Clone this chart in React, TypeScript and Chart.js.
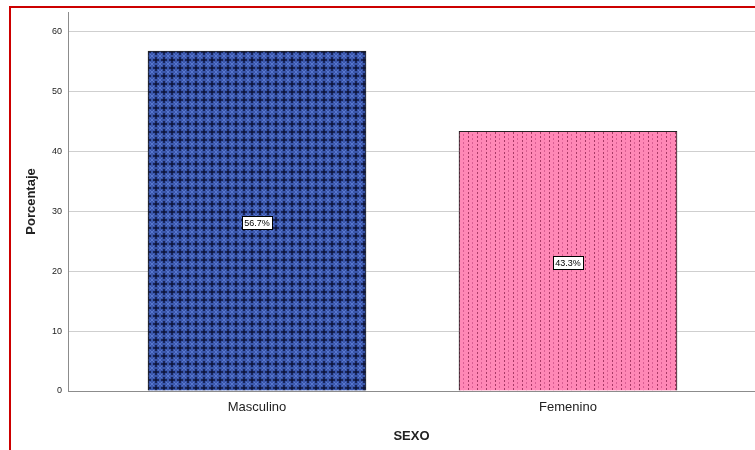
import React, { useEffect, useRef } from "react";
import { Chart, registerables } from "chart.js";

Chart.register(...registerables);

const categories = ["Masculino", "Femenino"];
const percentages = [56.7, 43.3];
const yTicks = [0, 10, 20, 30, 40, 50, 60];
const yMax = 63.2;

function makeCrossPattern(): CanvasPattern | string {
  const c = document.createElement("canvas");
  c.width = 8;
  c.height = 8;
  const g = c.getContext("2d");
  if (!g) return "#3b56a8";
  g.fillStyle = "#3a56aa";
  g.fillRect(0, 0, 8, 8);
  // light diamond lattice between the crosses
  g.fillStyle = "#5876cf";
  [[0, 0], [7, 0], [0, 7], [7, 7], [1, 1], [6, 1], [1, 6], [6, 6]].forEach(([x, y]) =>
    g.fillRect(x, y, 1, 1)
  );
  // dark plus marks
  g.fillStyle = "#182357";
  g.fillRect(3, 1, 2, 6);
  g.fillRect(1, 3, 6, 2);
  g.fillStyle = "#0f173d";
  g.fillRect(3, 3, 2, 2);
  return g.createPattern(c, "repeat") || "#3b56a8";
}

function makeDotPattern(): CanvasPattern | string {
  const c = document.createElement("canvas");
  c.width = 9;
  c.height = 4;
  const g = c.getContext("2d");
  if (!g) return "#ff86b4";
  g.fillStyle = "#ff88b6";
  g.fillRect(0, 0, 9, 4);
  g.fillStyle = "#a83a66";
  g.fillRect(0, 0, 1, 2);
  g.fillStyle = "#d95e92";
  g.fillRect(4, 2, 1, 2);
  return g.createPattern(c, "repeat") || "#ff86b4";
}

const valueLabels = {
  id: "valueLabels",
  afterDatasetsDraw(chart: any) {
    const ctx = chart.ctx;
    const meta = chart.getDatasetMeta(0);
    ctx.save();
    ctx.font = "9px 'Liberation Sans', Arial, sans-serif";
    ctx.textAlign = "center";
    ctx.textBaseline = "middle";
    meta.data.forEach((bar: any, i: number) => {
      const text = percentages[i].toFixed(1) + "%";
      const x = bar.x;
      const y = (bar.y + bar.base) / 2 + 2;
      const w = Math.round(ctx.measureText(text).width + 4);
      const h = 13;
      const left = Math.round(x - w / 2) + 0.5;
      const top = Math.round(y - h / 2) + 0.5;
      ctx.fillStyle = "#ffffff";
      ctx.fillRect(left, top, w, h);
      ctx.strokeStyle = "#000000";
      ctx.lineWidth = 1;
      ctx.strokeRect(left, top, w, h);
      ctx.fillStyle = "#000000";
      ctx.fillText(text, x, y + 0.5);
    });
    ctx.restore();
  },
};

export default function App() {
  const canvasRef = useRef<HTMLCanvasElement | null>(null);

  useEffect(() => {
    const canvas = canvasRef.current;
    if (!canvas) return;
    const fills = [makeCrossPattern(), makeDotPattern()];
    const chart = new Chart(canvas, {
      type: "bar",
      data: {
        datasets: [
          {
            data: categories.map((_, i) => ({ x: i, y: percentages[i] })),
            backgroundColor: fills as any,
            borderColor: "#222222",
            borderWidth: 1,
            barThickness: 218,
          },
        ],
      },
      options: {
        animation: false,
        responsive: false,
        devicePixelRatio: 1,
        layout: { padding: { top: 12, left: 0, right: 0, bottom: 0 } },
        plugins: { legend: { display: false }, tooltip: { enabled: false } },
        scales: {
          x: {
            type: "linear",
            offset: false,
            min: -0.6077,
            max: 1.6013,
            afterBuildTicks: (scale: any) => {
              scale.ticks = categories.map((_, i) => ({ value: i }));
            },
            afterFit: (scale: any) => {
              scale.height = 59;
            },
            grid: { display: false, drawTicks: false, offset: false },
            border: { display: true, color: "#8c8c8c", width: 1 },
            ticks: {
              padding: 9,
              color: "#222222",
              font: { family: "'Liberation Sans', Arial, sans-serif", size: 13 },
              callback: (v: any) => categories[v] ?? "",
              autoSkip: false,
              maxRotation: 0,
            },
            title: {
              display: true,
              text: "SEXO",
              color: "#222222",
              padding: { top: 0, bottom: 6 },
              font: { family: "'Liberation Sans', Arial, sans-serif", size: 13, weight: "bold" },
            },
          },
          y: {
            min: 0,
            max: yMax,
            afterBuildTicks: (scale: any) => {
              scale.ticks = yTicks.map((v) => ({ value: v }));
            },
            afterFit: (scale: any) => {
              scale.width = 68;
            },
            grid: { color: "#cfcfcf", drawTicks: false },
            border: { display: true, color: "#8c8c8c", width: 1 },
            ticks: {
              padding: 6,
              color: "#222222",
              font: { family: "'Liberation Sans', Arial, sans-serif", size: 9 },
            },
            title: {
              display: true,
              text: "Porcentaje",
              color: "#222222",
              padding: { top: 24, bottom: 0 },
              font: { family: "'Liberation Sans', Arial, sans-serif", size: 13, weight: "bold" },
            },
          },
        },
      },
      plugins: [valueLabels],
    });
    return () => chart.destroy();
  }, []);

  return (
    <div>
      <canvas
        ref={canvasRef}
        width={755}
        height={450}
        style={{ position: "fixed", left: 0, top: 0, width: 755, height: 450 }}
      />
      <div
        style={{
          position: "fixed",
          left: 9,
          top: 6,
          right: 0,
          bottom: 0,
          borderTop: "2px solid #cc0000",
          borderLeft: "2px solid #cc0000",
          pointerEvents: "none",
        }}
      />
    </div>
  );
}
